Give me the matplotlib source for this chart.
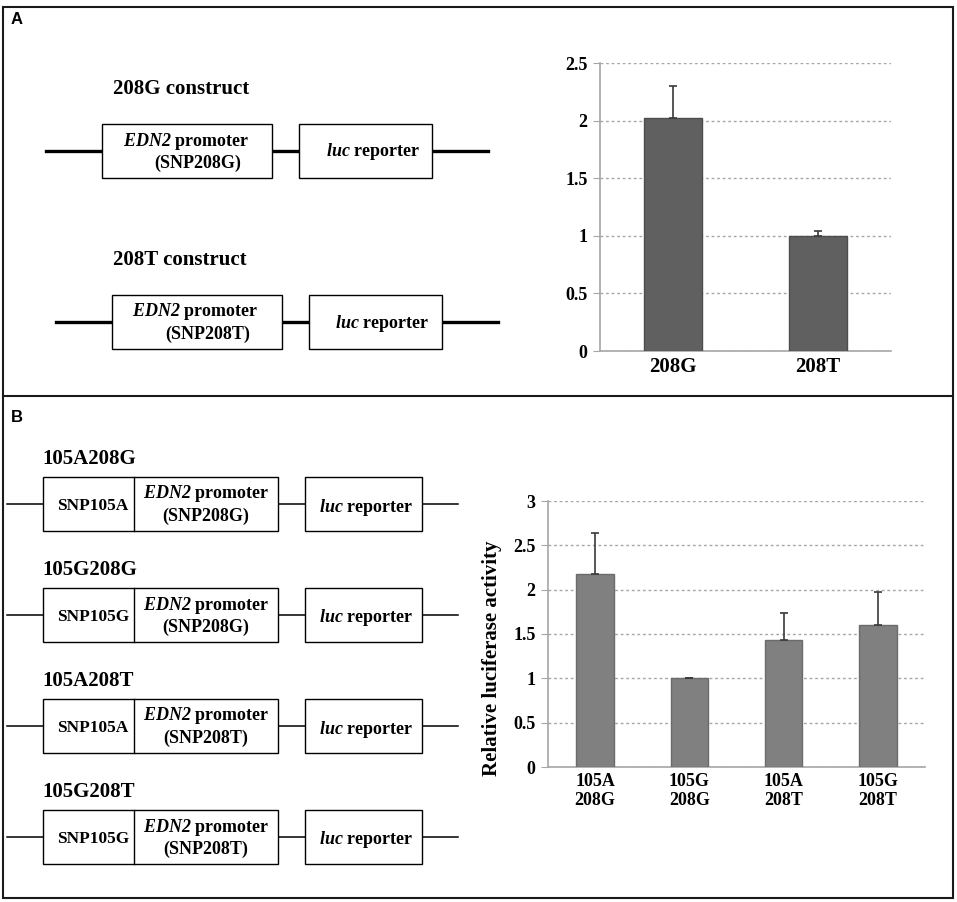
import matplotlib; matplotlib.use("Agg")
import matplotlib.pyplot as plt
from matplotlib.patches import Rectangle

plt.rcParams.update({
    "font.family": ["Liberation Serif", "DejaVu Serif"],
    "font.weight": "bold",
    "mathtext.fontset": "custom",
    "mathtext.it": "Liberation Serif:italic:bold",
    "mathtext.rm": "Liberation Serif:italic:bold",
})

# ---- data ----
a_groups = ["208G", "208T"]
a_means = [2.02, 1.00]
a_err = [0.28, 0.04]
a_ticks = [0, 0.5, 1, 1.5, 2, 2.5]

b_groups = ["105A\n208G", "105G\n208G", "105A\n208T", "105G\n208T"]
b_means = [2.18, 1.00, 1.43, 1.60]
b_err = [0.46, 0.005, 0.31, 0.37]
b_ticks = [0, 0.5, 1, 1.5, 2, 2.5, 3]

a_constructs = ["208G construct", "208T construct"]
a_snps = ["(SNP208G)", "(SNP208T)"]
b_constructs = ["105A208G", "105G208G", "105A208T", "105G208T"]
b_snp105 = ["SNP105A", "SNP105G", "SNP105A", "SNP105G"]
b_snp208 = ["(SNP208G)", "(SNP208G)", "(SNP208T)", "(SNP208T)"]

PROM = r"$EDN2$ promoter"
LUC = r"$luc$ reporter"
GRID = "#a6a6a6"

fig = plt.figure(figsize=(9.57, 9.02), dpi=100)
ov = fig.add_axes([0, 0, 1, 1])
ov.set_xlim(0, 957); ov.set_ylim(902, 0); ov.axis("off")

# outer frame + panel divider
ov.add_patch(Rectangle((3, 7), 950, 891, fill=False, lw=1.5, ec="#1a1a1a"))
ov.plot([3, 953], [396, 396], color="#1a1a1a", lw=1.5)
for lab, y in (("A", 20), ("B", 418)):
    ov.text(11, y, lab, family="Liberation Sans", fontweight="bold",
            fontsize=12, ha="left", va="center")


def box(x0, x1, y0, y1, lw=1.0):
    ov.add_patch(Rectangle((x0, y0), x1 - x0, y1 - y0, fc="white",
                           ec="black", lw=lw, zorder=2))


# ---- panel A constructs ----
for i, (name, snp) in enumerate(zip(a_constructs, a_snps)):
    dx, dy = 9.5 * i, 171 * i
    yl = 151 + dy
    ov.text(113, 89 + dy, name, fontsize=15, ha="left", va="center")
    ov.plot([46 + dx, 488 + dx], [yl, yl], color="black", lw=2.4, zorder=1)
    box(102 + dx, 272 + dx, yl - 27, yl + 27)
    box(299 + dx, 432 + dx, yl - 27, yl + 27)
    ov.text(186 + dx, yl - 10, PROM, fontsize=13, ha="center", va="center", zorder=3)
    ov.text(198 + dx, yl + 12, snp, fontsize=13, ha="center", va="center", zorder=3)
    ov.text(373 + dx, yl + 1, LUC, fontsize=13, ha="center", va="center", zorder=3)

# ---- panel B constructs ----
for i, (name, s105, s208) in enumerate(zip(b_constructs, b_snp105, b_snp208)):
    yl = 504 + 111 * i
    ov.text(42, yl - 45, name, fontsize=15, ha="left", va="center")
    ov.plot([7, 458], [yl, yl], color="black", lw=1.1, zorder=1)
    box(43, 278, yl - 27, yl + 27)
    ov.plot([134, 134], [yl - 27, yl + 27], color="black", lw=1.0, zorder=3)
    box(305, 422, yl - 27, yl + 27)
    ov.text(93, yl + 2, s105, fontsize=12.5, ha="center", va="center", zorder=3)
    ov.text(206, yl - 10, PROM, fontsize=13, ha="center", va="center", zorder=3)
    ov.text(206, yl + 12, s208, fontsize=13, ha="center", va="center", zorder=3)
    ov.text(366, yl + 3, LUC, fontsize=13, ha="center", va="center", zorder=3)


def bar_chart(ax, groups, means, err, ticks, color, edge, xfs):
    x = list(range(len(groups)))
    ax.bar(x, means, width=0.4, color=color, edgecolor=edge, lw=1.0, zorder=3)
    ax.errorbar(x, means, yerr=[[0] * len(err), err], fmt="none",
                ecolor="#3a3a3a", elinewidth=1.2, capsize=3, capthick=1.2,
                zorder=4)
    ax.set_xlim(-0.5, len(groups) - 0.5)
    ax.set_ylim(0, ticks[-1])
    ax.set_yticks(ticks)
    ax.set_yticklabels([f"{t:g}" for t in ticks], fontsize=13)
    ax.set_xticks(x)
    ax.set_xticklabels(groups, fontsize=xfs)
    ax.yaxis.grid(True, ls=(0, (2, 2)), color=GRID, lw=1.0, zorder=0)
    for s in ("top", "right"):
        ax.spines[s].set_visible(False)
    for s in ("left", "bottom"):
        ax.spines[s].set_color(GRID)
        ax.spines[s].set_linewidth(1.2)
    ax.tick_params(axis="y", length=5, color=GRID, pad=4)
    ax.tick_params(axis="x", length=0, pad=4)
    ax.set_axisbelow(True)


axA = fig.add_axes([600 / 957, 1 - 351 / 902, 291 / 957, 288 / 902])
bar_chart(axA, a_groups, a_means, a_err, a_ticks, "#606060", "#4d4d4d", 15)

axB = fig.add_axes([548 / 957, 1 - 767 / 902, 377 / 957, 266 / 902])
bar_chart(axB, b_groups, b_means, b_err, b_ticks, "#808080", "#6b6b6b", 13)
axB.set_ylabel("Relative luciferase activity", fontsize=15, fontweight="bold")
axB.yaxis.set_label_coords(-0.122, 0.41)

fig.savefig("out.png", dpi=100)
